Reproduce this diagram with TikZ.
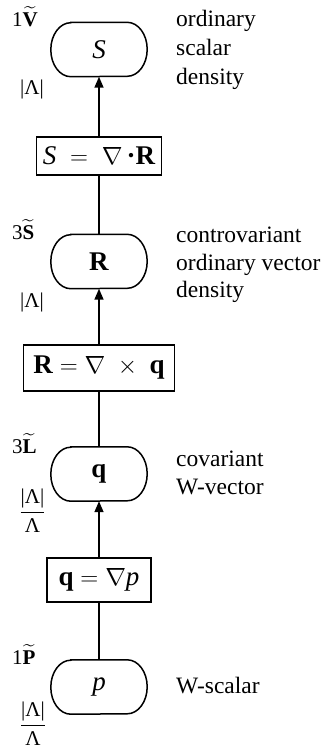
\documentclass[tikz,border=0pt]{standalone}
\usepackage{amsmath}
\usepackage{fontspec}
\setmainfont{Liberation Serif}
\usetikzlibrary{arrows.meta}
\newcommand{\tildebf}[1]{$\widetilde{\hbox{\bfseries #1}}$}
\newcommand{\lamfrac}{$\genfrac{}{}{1.3pt}{0}{\hbox{|Λ|}}{\hbox{Λ}}$}
\tikzset{
  oval/.style={minimum width=96pt, minimum height=54pt, inner sep=0pt, font=\fontsize{27}{32}\selectfont},
  eqbox/.style={draw, line width=1.5pt, inner sep=0pt, font=\fontsize{27}{32}\selectfont},
  rlab/.style={anchor=base west, inner sep=0pt, font=\fontsize{23.5}{28}\selectfont},
  llab/.style={inner sep=0pt, font=\fontsize{21}{25}\selectfont},
  conn/.style={line width=1.5pt},
  arr/.style={conn, -{Triangle[length=11pt,width=9pt]}},
}
\begin{document}
\begin{tikzpicture}[x=1pt,y=1pt]
\useasboundingbox (0,0) rectangle (326,-753);
% stadium nodes
\node[oval] (nS) at (99,-49.5) {\textit{S}};
\node[oval] (nR) at (99,-261.5) {\textbf{R}};
\node[oval] (nq) at (99,-474) {\textbf{q}};
\node[oval] (np) at (99,-687) {\textit{p}};
\foreach \n in {nS,nR,nq,np}{
  \draw[conn] ([xshift=20pt]\n.north west) -- ([xshift=-20pt]\n.north east)
    arc[start angle=90,end angle=-90,x radius=20pt,y radius=27pt]
    -- ([xshift=20pt]\n.south west)
    arc[start angle=270,end angle=90,x radius=20pt,y radius=27pt] -- cycle;
}
% equation boxes
\node[eqbox, minimum width=125pt, minimum height=38pt] (b1) at (99,-156) {$\hbox{\itshape S}\;=\;\nabla\,\hbox{\bfseries ·R}$};
\node[eqbox, minimum width=151pt, minimum height=46pt] (b2) at (99,-368) {$\hbox{\bfseries R} = \nabla\;\times\;\hbox{\bfseries q}$};
\node[eqbox, minimum width=104pt, minimum height=44pt] (b3) at (99,-580) {$\hbox{\bfseries q} = \nabla \hbox{\itshape p}$};
% connectors
\draw[arr] (b1.north) -- (nS.south);
\draw[conn] (nR.north) -- (b1.south);
\draw[arr] (b2.north) -- (nR.south);
\draw[conn] (nq.north) -- (b2.south);
\draw[arr] (b3.north) -- (nq.south);
\draw[conn] (np.north) -- (b3.south);
% right labels
\node[rlab] (t1) at (176,-26) {ordinary};
\node[rlab] (t2) at (176,-55) {scalar};
\node[rlab] (t3) at (176,-84) {density};
\node[rlab] (t4) at (176,-242) {controvariant};
\node[rlab] (t5) at (176,-270) {ordinary vector};
\node[rlab] (t6) at (176,-297) {density};
\node[rlab] (t7) at (176,-466) {covariant};
\node[rlab] (t8) at (176,-494) {W-vector};
\node[rlab] (t9) at (176,-693) {W-scalar};
% left labels
\node[llab, anchor=base west] (l1) at (12,-26) {1\tildebf{V}};
\node[llab, anchor=base] (l2) at (32,-94) {|Λ|};
\node[llab, anchor=base west] (l3) at (12,-239) {3\tildebf{S}};
\node[llab, anchor=base] (l4) at (32,-307) {|Λ|};
\node[llab, anchor=base west] (l5) at (12,-453) {3\tildebf{L}};
\node[llab, anchor=base] (l6) at (32.5,-518) {\lamfrac};
\node[llab, anchor=base west] (l7) at (12,-664) {1\tildebf{P}};
\node[llab, anchor=base] (l8) at (33,-731) {\lamfrac};
\end{tikzpicture}
\end{document}
